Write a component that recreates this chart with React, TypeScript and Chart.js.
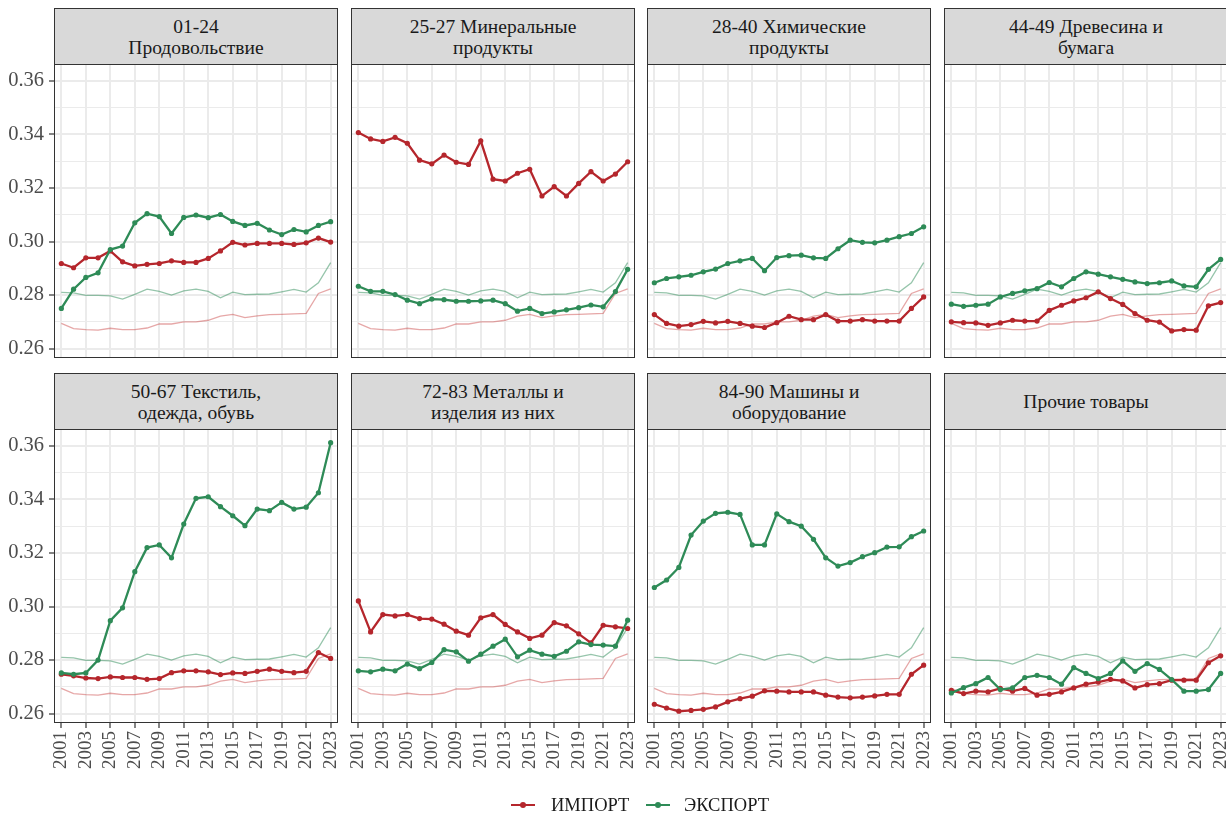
import React, { useEffect, useRef } from "react";
import { Chart, registerables } from "chart.js";

Chart.register(...registerables);

// ---------------- DATA ----------------
const years = [2001, 2002, 2003, 2004, 2005, 2006, 2007, 2008, 2009, 2010, 2011, 2012, 2013, 2014, 2015, 2016, 2017, 2018, 2019, 2020, 2021, 2022, 2023];
const xTickYears = [2001, 2003, 2005, 2007, 2009, 2011, 2013, 2015, 2017, 2019, 2021, 2023];
const yMajorTicks = [0.26, 0.28, 0.3, 0.32, 0.34, 0.36];
const yTickLabels = ["0.26", "0.28", "0.30", "0.32", "0.34", "0.36"];
const yMinorTicks = [0.27, 0.29, 0.31, 0.33, 0.35];

const seriesNames = ["ИМПОРТ", "ЭКСПОРТ"];

const totalImport = [0.2694, 0.2675, 0.2671, 0.2669, 0.2676, 0.2671, 0.2671, 0.2677, 0.2692, 0.2692, 0.27, 0.27, 0.2706, 0.2721, 0.2728, 0.2716, 0.2722, 0.2727, 0.2728, 0.273, 0.2732, 0.2806, 0.2823];
const totalExport = [0.281, 0.2808, 0.2799, 0.2799, 0.2797, 0.2785, 0.2803, 0.2822, 0.2814, 0.28, 0.2816, 0.2822, 0.2814, 0.279, 0.2811, 0.2802, 0.2803, 0.2804, 0.2812, 0.2821, 0.2811, 0.2846, 0.2921];

const foodImport = [0.2918, 0.2902, 0.2939, 0.2939, 0.2965, 0.2924, 0.2909, 0.2915, 0.2918, 0.2928, 0.2922, 0.2922, 0.2937, 0.2965, 0.2997, 0.2987, 0.2993, 0.2993, 0.2993, 0.2989, 0.2995, 0.3013, 0.2998];
const foodExport = [0.275, 0.2822, 0.2866, 0.2883, 0.297, 0.2983, 0.307, 0.3104, 0.3093, 0.303, 0.309, 0.3099, 0.3089, 0.3101, 0.3075, 0.306, 0.3068, 0.3043, 0.3026, 0.3045, 0.3036, 0.306, 0.3074];

const mineralImport = [0.3407, 0.3383, 0.3374, 0.3389, 0.3367, 0.3304, 0.329, 0.3323, 0.3296, 0.3288, 0.3376, 0.3233, 0.3226, 0.3255, 0.327, 0.317, 0.3205, 0.317, 0.3217, 0.3261, 0.3226, 0.3252, 0.3298];
const mineralExport = [0.2833, 0.2814, 0.2814, 0.2802, 0.2781, 0.2768, 0.2785, 0.2783, 0.2777, 0.2777, 0.2778, 0.2781, 0.2768, 0.274, 0.275, 0.2731, 0.2737, 0.2745, 0.2753, 0.2763, 0.2756, 0.2813, 0.2896];

const chemImport = [0.2727, 0.2694, 0.2684, 0.269, 0.2702, 0.2696, 0.2702, 0.2694, 0.2684, 0.2679, 0.2697, 0.2721, 0.2708, 0.2708, 0.2727, 0.2703, 0.2703, 0.2708, 0.2703, 0.2703, 0.2703, 0.275, 0.2793];
const chemExport = [0.2846, 0.2862, 0.2868, 0.2874, 0.2887, 0.2897, 0.2918, 0.2928, 0.2937, 0.2891, 0.294, 0.2947, 0.2949, 0.2939, 0.2937, 0.2973, 0.3005, 0.2997, 0.2995, 0.3005, 0.3018, 0.303, 0.3055];

const woodImport = [0.27, 0.2697, 0.2696, 0.2687, 0.2696, 0.2706, 0.2703, 0.2703, 0.2743, 0.2762, 0.2778, 0.279, 0.2812, 0.2787, 0.2765, 0.2731, 0.2706, 0.2699, 0.2666, 0.2671, 0.2669, 0.276, 0.2772];
const woodExport = [0.2766, 0.2758, 0.2762, 0.2766, 0.2793, 0.2806, 0.2816, 0.2824, 0.2847, 0.2831, 0.2862, 0.2887, 0.2878, 0.2868, 0.2859, 0.2849, 0.2843, 0.2846, 0.2853, 0.2834, 0.2831, 0.2896, 0.2933];

const textileImport = [0.2747, 0.2741, 0.2733, 0.2731, 0.2737, 0.2735, 0.2735, 0.2728, 0.2731, 0.2753, 0.276, 0.276, 0.2756, 0.2746, 0.2752, 0.275, 0.2758, 0.2766, 0.2758, 0.2753, 0.2758, 0.2828, 0.2806];
const textileExport = [0.2752, 0.2747, 0.2752, 0.28, 0.2947, 0.2995, 0.313, 0.322, 0.323, 0.3182, 0.3308, 0.3404, 0.341, 0.3373, 0.3339, 0.3302, 0.3364, 0.3358, 0.3389, 0.3364, 0.3371, 0.3425, 0.3612];

const metalImport = [0.3021, 0.2905, 0.297, 0.2965, 0.297, 0.2955, 0.2953, 0.2934, 0.2908, 0.2893, 0.2958, 0.297, 0.2933, 0.2905, 0.2881, 0.2893, 0.294, 0.2928, 0.2898, 0.2864, 0.293, 0.2924, 0.2918];
const metalExport = [0.276, 0.2756, 0.2766, 0.276, 0.2785, 0.2768, 0.2791, 0.2839, 0.2831, 0.2796, 0.2822, 0.2852, 0.2878, 0.2812, 0.2837, 0.2822, 0.2814, 0.2833, 0.2868, 0.2858, 0.2856, 0.2852, 0.2949];

const machImport = [0.2635, 0.2621, 0.2609, 0.2612, 0.2616, 0.2625, 0.2644, 0.2656, 0.2665, 0.2685, 0.2684, 0.2681, 0.2681, 0.2681, 0.2669, 0.2662, 0.2659, 0.2662, 0.2666, 0.2672, 0.2672, 0.2747, 0.2781];
const machExport = [0.3071, 0.3099, 0.3146, 0.3267, 0.3319, 0.3348, 0.3352, 0.3344, 0.323, 0.323, 0.3346, 0.3317, 0.33, 0.3251, 0.3182, 0.3151, 0.3164, 0.3186, 0.3201, 0.3222, 0.3223, 0.3261, 0.3282];

const otherImport = [0.2687, 0.2675, 0.2684, 0.2681, 0.2694, 0.2684, 0.2694, 0.2669, 0.2672, 0.2681, 0.2696, 0.271, 0.2718, 0.2728, 0.2722, 0.2696, 0.2708, 0.2712, 0.2725, 0.2725, 0.2725, 0.279, 0.2816];
const otherExport = [0.2677, 0.2697, 0.2712, 0.2735, 0.269, 0.2696, 0.2735, 0.2743, 0.2735, 0.271, 0.2772, 0.275, 0.2731, 0.275, 0.2797, 0.2758, 0.2787, 0.2765, 0.2727, 0.2684, 0.2684, 0.269, 0.275];

const panelTitles = [
  ["01-24", "Продовольствие"],
  ["25-27 Минеральные", "продукты"],
  ["28-40 Химические", "продукты"],
  ["44-49 Древесина и", "бумага"],
  ["50-67 Текстиль,", "одежда, обувь"],
  ["72-83 Металлы и", "изделия из них"],
  ["84-90 Машины и", "оборудование"],
  ["Прочие товары"],
];
const panelImports = [foodImport, mineralImport, chemImport, woodImport, textileImport, metalImport, machImport, otherImport];
const panelExports = [foodExport, mineralExport, chemExport, woodExport, textileExport, metalExport, machExport, otherExport];

// ---------------- STYLE / LAYOUT ----------------
const FONT = '"Liberation Serif", "DejaVu Serif", serif';
const RED = "#B5262C";
const GREEN = "#2E8B57";
const RED_LIGHT = "rgba(200,60,60,0.45)";
const GREEN_LIGHT = "rgba(46,139,87,0.5)";
const COL_LEFT = [54, 351, 647, 944];
const ROW_STRIP_TOP = [8, 373];
const STRIP_H = 56;
const PANEL_W = 284;
const PANEL_H = 294;
const PAD = 20;
const Y_AXIS_W = 54;
const X_AXIS_H = 50;
const X_MIN = 2000.4;
const X_MAX = 2023.6;
const Y_MIN = 0.2565;
const Y_MAX = 0.3663;

const toPoints = (vals: number[]) => years.map((yr, i) => ({ x: yr, y: vals[i] }));
const isMajor = (v: number) => yMajorTicks.some((m) => Math.abs(m - v) < 1e-9);

const borderPlugin = {
  id: "panelBorder",
  afterDraw(chart: any) {
    const { ctx, chartArea } = chart;
    ctx.save();
    ctx.strokeStyle = "#333333";
    ctx.lineWidth = 1;
    ctx.strokeRect(
      Math.round(chartArea.left) + 0.5,
      Math.round(chartArea.top) + 0.5,
      Math.round(chartArea.right - chartArea.left) - 1,
      Math.round(chartArea.bottom - chartArea.top) - 1
    );
    ctx.restore();
  },
};

function Panel({ index }: { index: number }) {
  const ref = useRef<HTMLCanvasElement | null>(null);
  const col = index % 4;
  const row = Math.floor(index / 4);
  const leftW = col === 0 ? Y_AXIS_W : 0;
  const bottomH = row === 1 ? X_AXIS_H : 0;
  const panelTop = ROW_STRIP_TOP[row] + STRIP_H;
  const cw = PANEL_W + leftW + 2 * PAD;
  const ch = PANEL_H + bottomH + 2 * PAD;
  const cl = COL_LEFT[col] - leftW - PAD;
  const ct = panelTop - PAD;

  useEffect(() => {
    if (!ref.current) return;
    const chart = new Chart(ref.current, {
      type: "line",
      data: {
        datasets: [
          {
            label: seriesNames[1],
            data: toPoints(panelExports[index]),
            borderColor: GREEN,
            backgroundColor: GREEN,
            borderWidth: 2.3,
            pointRadius: 2.6,
            pointBorderWidth: 0,
            pointBackgroundColor: GREEN,
            tension: 0,
          },
          {
            label: seriesNames[0],
            data: toPoints(panelImports[index]),
            borderColor: RED,
            backgroundColor: RED,
            borderWidth: 2.3,
            pointRadius: 2.6,
            pointBorderWidth: 0,
            pointBackgroundColor: RED,
            tension: 0,
          },
          {
            label: "total export",
            data: toPoints(totalExport),
            borderColor: GREEN_LIGHT,
            borderWidth: 1.3,
            pointRadius: 0,
            tension: 0,
          },
          {
            label: "total import",
            data: toPoints(totalImport),
            borderColor: RED_LIGHT,
            borderWidth: 1.3,
            pointRadius: 0,
            tension: 0,
          },
        ],
      },
      options: {
        animation: false,
        responsive: false,
        maintainAspectRatio: false,
        devicePixelRatio: 1,
        layout: { padding: PAD },
        plugins: { legend: { display: false }, tooltip: { enabled: false } },
        scales: {
          x: {
            type: "linear",
            min: X_MIN,
            max: X_MAX,
            afterBuildTicks: (s: any) => {
              s.ticks = xTickYears.map((v) => ({ value: v }));
            },
            afterFit: (s: any) => {
              s.height = bottomH;
            },
            border: { display: false },
            grid: {
              color: "#ebebeb",
              lineWidth: 2,
              drawTicks: row === 1,
              tickLength: 5,
              tickColor: "#333333",
              tickWidth: 1.2,
            },
            ticks: {
              display: row === 1,
              autoSkip: false,
              minRotation: 90,
              maxRotation: 90,
              padding: 3,
              color: "#4d4d4d",
              font: { family: FONT, size: 19 },
              callback: (v: any) => String(v),
            },
          },
          y: {
            type: "linear",
            min: Y_MIN,
            max: Y_MAX,
            afterBuildTicks: (s: any) => {
              s.ticks = [...yMajorTicks, ...yMinorTicks].sort((a, b) => a - b).map((v) => ({ value: v }));
            },
            afterFit: (s: any) => {
              s.width = leftW;
            },
            border: { display: false },
            grid: {
              color: "#ebebeb",
              lineWidth: (c: any) => (c.tick && isMajor(c.tick.value) ? 2 : 1),
              drawTicks: col === 0,
              tickLength: 5,
              tickWidth: 1.2,
              tickColor: (c: any) => (c.tick && isMajor(c.tick.value) ? "#333333" : "rgba(0,0,0,0)"),
            },
            ticks: {
              display: col === 0,
              autoSkip: false,
              padding: 5,
              color: "#4d4d4d",
              font: { family: FONT, size: 20.5 },
              callback: (v: any) => {
                const i = yMajorTicks.findIndex((m) => Math.abs(m - v) < 1e-9);
                return i >= 0 ? yTickLabels[i] : "";
              },
            },
          },
        },
      },
      plugins: [borderPlugin],
    } as any);
    return () => chart.destroy();
  }, [index]);

  const title = panelTitles[index];
  return (
    <>
      <canvas
        ref={ref}
        width={cw}
        height={ch}
        style={{ position: "absolute", left: cl, top: ct, width: cw, height: ch }}
      />
      <div
        style={{
          position: "absolute",
          left: COL_LEFT[col],
          top: ROW_STRIP_TOP[row],
          width: PANEL_W,
          height: STRIP_H + 1,
          boxSizing: "border-box",
          background: "#d9d9d9",
          border: "1px solid #333333",
          display: "flex",
          flexDirection: "column",
          justifyContent: "center",
          alignItems: "center",
          fontFamily: FONT,
          fontSize: 19.5,
          lineHeight: "21px",
          color: "#1a1a1a",
          textAlign: "center",
        }}
      >
        {title.map((t, i) => (
          <div key={i}>{t}</div>
        ))}
      </div>
    </>
  );
}

function LegendKey({ left, color }: { left: number; color: string }) {
  return (
    <div style={{ position: "absolute", left, top: 804, width: 24, height: 2, background: color }}>
      <div
        style={{
          position: "absolute",
          left: 9,
          top: -2,
          width: 6,
          height: 6,
          borderRadius: 3,
          background: color,
        }}
      />
    </div>
  );
}

export default function App() {
  return (
    <div
      style={{
        position: "absolute",
        left: 0,
        top: 0,
        width: 1226,
        height: 813,
        overflow: "hidden",
        background: "#ffffff",
      }}
    >
      {panelTitles.map((_, i) => (
        <Panel key={i} index={i} />
      ))}
      <LegendKey left={511} color={RED} />
      <div style={{ position: "absolute", left: 551, top: 794, height: 22, lineHeight: "22px", fontFamily: FONT, fontSize: 18.5, color: "#1a1a1a", whiteSpace: "nowrap" }}>
        {seriesNames[0]}
      </div>
      <LegendKey left={646} color={GREEN} />
      <div style={{ position: "absolute", left: 684, top: 794, height: 22, lineHeight: "22px", fontFamily: FONT, fontSize: 18.5, color: "#1a1a1a", whiteSpace: "nowrap" }}>
        {seriesNames[1]}
      </div>
    </div>
  );
}
